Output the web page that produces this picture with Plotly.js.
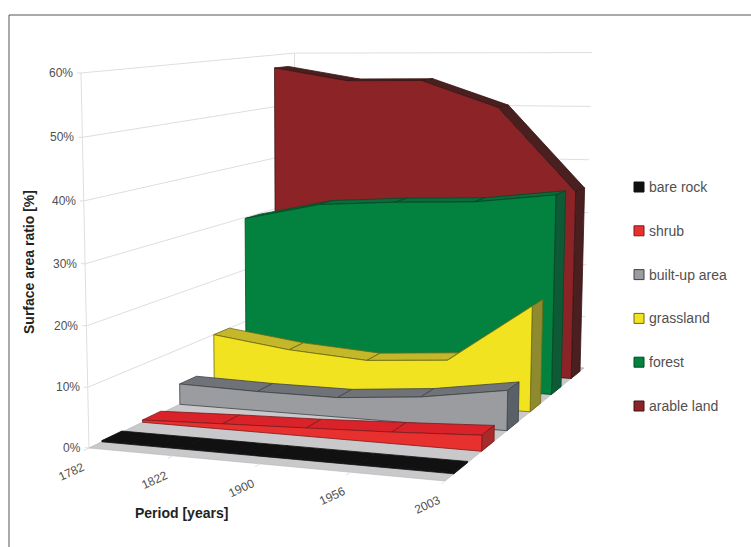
<!DOCTYPE html>
<html>
<head>
<meta charset="utf-8">
<script src="https://cdn.plot.ly/plotly-3.0.1.min.js"></script>
<style>html,body{margin:0;padding:0;background:#fff}#chart{width:751px;height:547px}</style>
</head>
<body>
<div id="chart"></div>
<script>
// Land-use shares per survey year, back-projected onto a 3D area chart
const years = ['1782', '1822', '1900', '1956', '2003'];
const percentTicks = [0, 10, 20, 30, 40, 50, 60];
const seriesNames = ['bare rock', 'shrub', 'built-up area', 'grassland', 'forest', 'arable land'];
const bareRock = [0.2, 0.2, 0.2, 0.2, 0.2];
const shrub = [0.4, 0.9, 1.3, 1.9, 2.6];
const builtUp = [3.7, 3.4, 3.4, 4.6, 6.8];
const grassland = [10.0, 8.1, 7.1, 8.1, 18.5];
const forest = [29.8, 32.9, 33.8, 34.3, 36.0];
const arableLand = [57.5, 55.1, 55.2, 50.3, 35.0];
const seriesValues = [bareRock, shrub, builtUp, grassland, forest, arableLand];

const frontColors = ['#111111', '#E8312F', '#9A9CA0', '#F1E31F', '#03823F', '#8C2326'];
const topColors = ['#111111', '#D9222A', '#6F7378', '#C4B82A', '#0B6B3A', '#4A1F1F'];
const sideColors = ['#111111', '#A82A2A', '#5A6068', '#8D8A30', '#0E5A36', '#4A1F1F'];
const edgeColors = ['#111111', '#7A1B1B', '#3F4246', '#6E6A12', '#034A24', '#3A1414'];

// View: where the floor corners and the 60% level land on the page
const floorCorners = [[89, 448], [445, 481], [584, 368], [295, 349]];
const topFrontLeft = [81, 73];
const topBackRight = [592, 53];
const maxPercent = 60;
const slabStart = 0.30, slabDepth = 0.48;

function buildCamera() {
  const [[x0, y0], [x1, y1], [x2, y2], [x3, y3]] = floorCorners;
  const dx1 = x1 - x2, dx2 = x3 - x2, sx = x0 - x1 + x2 - x3;
  const dy1 = y1 - y2, dy2 = y3 - y2, sy = y0 - y1 + y2 - y3;
  const den = dx1 * dy2 - dx2 * dy1;
  const g = (sx * dy2 - dx2 * sy) / den, h = (dx1 * sy - sx * dy1) / den;
  const a = x1 - x0 + g * x1, b = x3 - x0 + h * x3, c = x0;
  const d = y1 - y0 + g * y1, e = y3 - y0 + h * y3, f = y0;
  const [px, py] = topFrontLeft, [qx] = topBackRight;
  const rhs1 = px - c, rhs2 = qx * (g + h + 1) - a - b - c;
  const o = (rhs1 - rhs2) / (qx - px);
  const m = rhs1 + px * o;
  const n = py - f + py * o;
  return { a, b, c, d, e, f, g, h, m, n, o };
}
const cam = buildCamera();

// s: along the years, t: across the series, pct: height in percent
function project(s, t, pct) {
  const w = pct / maxPercent;
  const q = cam.g * s + cam.h * t + cam.o * w + 1;
  return [(cam.a * s + cam.b * t + cam.m * w + cam.c) / q,
          (cam.d * s + cam.e * t + cam.n * w + cam.f) / q];
}

const traces = [];
function poly(points, fill, edge, width) {
  const closed = points.concat([points[0]]);
  traces.push({
    type: 'scatter', mode: 'lines', x: closed.map(p => p[0]), y: closed.map(p => p[1]),
    fill: 'toself', fillcolor: fill, line: { color: edge, width: width === undefined ? 0.8 : width },
    hoverinfo: 'skip', showlegend: false
  });
}
function line(a, b, color) {
  traces.push({
    type: 'scatter', mode: 'lines', x: [a[0], b[0]], y: [a[1], b[1]],
    line: { color: color, width: 1 }, hoverinfo: 'skip', showlegend: false
  });
}

// Walls
const gridColor = '#DEDEDE';
percentTicks.forEach(p => {
  line(project(-0.012, 0, p), project(0, 0, p), gridColor);
  line(project(0, 0, p), project(0, 1, p), gridColor);
  line(project(0, 1, p), project(1, 1, p), gridColor);
});
line(project(0, 0, 0), project(0, 0, maxPercent), gridColor);
line(project(0, 1, 0), project(0, 1, maxPercent), gridColor);

// Floor
poly([project(0, 0, 0), project(1, 0, 0), project(1, 1, 0), project(0, 1, 0)], '#C9C9CB', '#B5B5B7', 0.6);
years.forEach((_, i) => line(project(i / 4, 0, 0), project(i / 4, -0.02, 0), gridColor));

// Slabs, painted from the back row to the front row
for (let k = seriesValues.length - 1; k >= 0; k--) {
  const vals = seriesValues[k];
  const t0 = (k + slabStart) / 6, t1 = (k + slabStart + slabDepth) / 6;
  const last = vals.length - 1;
  const s = i => i / last;
  for (let i = 0; i < last; i++) {
    poly([project(s(i), t0, vals[i]), project(s(i + 1), t0, vals[i + 1]),
          project(s(i + 1), t1, vals[i + 1]), project(s(i), t1, vals[i])],
         topColors[k], edgeColors[k]);
  }
  poly([project(1, t0, 0), project(1, t1, 0), project(1, t1, vals[last]), project(1, t0, vals[last])],
       sideColors[k], edgeColors[k]);
  const front = vals.map((v, i) => project(s(i), t0, v));
  poly(front.concat([project(1, t0, 0), project(0, t0, 0)]), frontColors[k], edgeColors[k]);
}

// Frame around the figure
traces.push({
  type: 'scatter', mode: 'lines', x: [9, 9, 751], y: [547, 15, 15],
  line: { color: '#555555', width: 1 }, hoverinfo: 'skip', showlegend: false
});

// Key
const keyY = seriesNames.map((_, i) => 187 + i * 43.8);
traces.push({
  type: 'scatter', mode: 'markers', x: seriesNames.map(() => 639), y: keyY,
  marker: { symbol: 'square', size: 10, color: frontColors, line: { color: edgeColors, width: 1 } },
  hoverinfo: 'skip', showlegend: false
});

const fontFamily = 'Liberation Sans, Arial, sans-serif';
const axisFont = { family: fontFamily, size: 12, color: '#505050' };
const annotations = [];
seriesNames.forEach((name, i) => {
  annotations.push({ x: 647, y: keyY[i], xref: 'x', yref: 'y', text: name, showarrow: false,
    xanchor: 'left', font: { family: fontFamily, size: 14, color: '#505050' } });
});
percentTicks.forEach(p => {
  const [x, y] = project(0, 0, p);
  annotations.push({ x, y, xref: 'x', yref: 'y', text: p + '%', showarrow: false,
    xanchor: 'right', xshift: -6, font: axisFont });
});
years.forEach((yr, i) => {
  const [x, y] = project(i / 4, 0, 0);
  annotations.push({ x, y, xref: 'x', yref: 'y', text: yr, showarrow: false, textangle: -25,
    xshift: -18, yshift: -24, font: axisFont });
});
const titleFont = { family: fontFamily, size: 14, color: '#222222' };
annotations.push({ x: 181, y: 513, xref: 'x', yref: 'y', text: '<b>Period [years]</b>', showarrow: false, font: titleFont });
annotations.push({ x: 29, y: 262, xref: 'x', yref: 'y', text: '<b>Surface area ratio [%]</b>', showarrow: false, textangle: -90, font: titleFont });

Plotly.newPlot('chart', traces, {
  width: 751, height: 547,
  margin: { l: 0, r: 0, t: 0, b: 0 },
  paper_bgcolor: '#ffffff', plot_bgcolor: '#ffffff',
  xaxis: { range: [0, 751], visible: false, fixedrange: true },
  yaxis: { range: [547, 0], visible: false, fixedrange: true },
  showlegend: false,
  annotations: annotations
}, { displayModeBar: false, staticPlot: true });
</script>
</body>
</html>
